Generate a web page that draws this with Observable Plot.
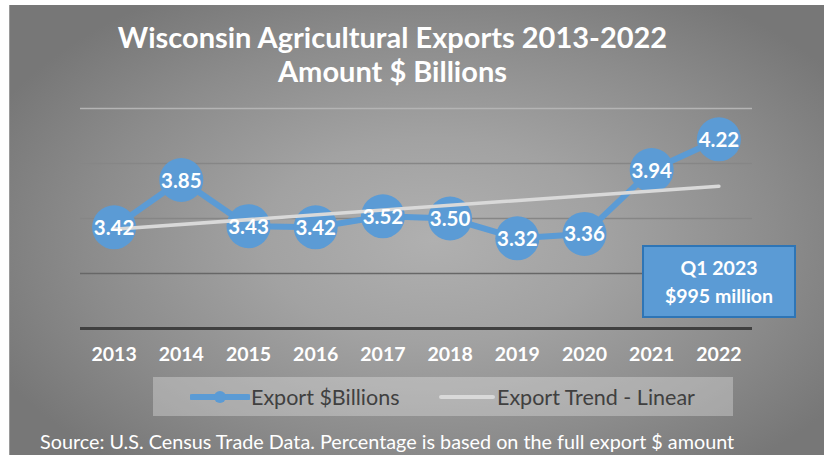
<!DOCTYPE html>
<html>
<head>
<meta charset="utf-8">
<script src="https://cdn.jsdelivr.net/npm/d3@7"></script>
<script src="https://cdn.jsdelivr.net/npm/@observablehq/plot@0.6"></script>
<style>
  html, body { margin: 0; padding: 0; background: #fff; }
  #wrap { position: relative; width: 827px; height: 455px; overflow: hidden; font-family: Lato, "Open Sans", sans-serif; }
  #panel { position: absolute; left: 9px; top: 5px; width: 814px; height: 470px;
    background: radial-gradient(ellipse 60% 62% at 52% 50%, #b0b0b0 0%, #a2a2a2 35%, #8c8c8c 70%, #777 100%);
    border-left: 1px solid #9a9a9a; }
  #title { position: absolute; left: 0; width: 785px; top: 20px; text-align: center; color: #fff; font-weight: 700; font-size: 29px; line-height: 34px; }
  #chart { position: absolute; left: 0; top: 0; }
  #q1 { position: absolute; left: 642px; top: 245px; box-sizing: border-box; width: 154px; height: 73px;
    background: #5b9bd5; border: 2px solid #2e75b6; color: #fff; font-weight: 700; font-size: 19.5px; line-height: 28px; text-align: center; padding-top: 7px; }
  #legend { position: absolute; left: 153px; top: 377px; width: 580px; height: 39px; background: rgba(235,235,235,0.35); }
  #legend .item { position: absolute; top: 0; height: 39px; display: flex; align-items: center; color: #404040; font-size: 21.5px; }
  #source { position: absolute; left: 40px; top: 429px; color: #fff; font-size: 19.8px; white-space: nowrap; }
</style>
</head>
<body>
<div id="wrap">
  <div id="panel"></div>
  <div id="title">Wisconsin Agricultural Exports 2013-2022<br>Amount $ Billions</div>
  <div id="chart"></div>
  <div id="q1"></div>
  <div id="legend"></div>
  <div id="source"></div>
</div>
<script>
const years = [2013, 2014, 2015, 2016, 2017, 2018, 2019, 2020, 2021, 2022];
const exportsBn = [3.42, 3.85, 3.43, 3.42, 3.52, 3.50, 3.32, 3.36, 3.94, 4.22];
const yTicks = [2.5, 3.0, 3.5, 4.0, 4.5];
const seriesNames = ["Export $Billions", "Export Trend - Linear"];
const noteLines = ["Q1 2023", "$995 million"];
const sourceText = "Source: U.S. Census Trade Data. Percentage is based on the full export $ amount";

const data = years.map((year, i) => ({year, value: exportsBn[i]}));
const blue = "#5b9bd5";

const gridColor = d => d === 2.5 ? "#404040" : d === 3.0 ? "#676767" : d === 4.5 ? "#b4b4b4" : "#868686";
const gridWidth = d => d === 2.5 ? 3 : 1.5;

const chart = Plot.plot({
  width: 827,
  height: 372,
  marginLeft: 80,
  marginRight: 75,
  marginTop: 108,
  marginBottom: 44,
  style: {background: "transparent", fontFamily: "Lato, 'Open Sans', sans-serif"},
  x: {type: "linear", domain: [years[0] - 0.5, years[years.length - 1] + 0.5]},
  y: {domain: [yTicks[0], yTicks[yTicks.length - 1]]},
  marks: [
    Plot.ruleY(yTicks, {stroke: gridColor, strokeWidth: gridWidth}),
    Plot.axisX({ticks: years, tickFormat: d => String(d), tickSize: 0, tickPadding: 19, fontSize: 19.5, fontWeight: 700, fill: "#fff", label: null}),
    Plot.axisY({ticks: [], label: null, tickSize: 0}),
    Plot.line(data, {x: "year", y: "value", stroke: blue, strokeWidth: 6}),
    Plot.dot(data, {x: "year", y: "value", r: 22, fill: blue}),
    Plot.linearRegressionY(data, {x: "year", y: "value", ci: 0, stroke: "#d9d9d9", strokeWidth: 3.5, strokeOpacity: 1}),
    Plot.text(data, {x: "year", y: "value", text: d => d.value.toFixed(2), fill: "#fff", fontSize: 20.5, fontWeight: 700, dy: 1})
  ]
});
document.getElementById("chart").appendChild(chart);

document.getElementById("q1").innerHTML = noteLines.join("<br>");
document.getElementById("source").textContent = sourceText;

const legend = document.getElementById("legend");
legend.innerHTML = `
  <div class="item" style="left:37px">
    <svg width="60" height="16"><line x1="2" y1="8" x2="58" y2="8" stroke="${blue}" stroke-width="6" stroke-linecap="round"/><circle cx="30" cy="8" r="6" fill="${blue}"/></svg>
    <span style="margin-left:1px">${seriesNames[0]}</span>
  </div>
  <div class="item" style="left:286px">
    <svg width="56" height="16"><line x1="2" y1="8" x2="54" y2="8" stroke="#d9d9d9" stroke-width="4" stroke-linecap="round"/></svg>
    <span style="margin-left:2px">${seriesNames[1]}</span>
  </div>`;
</script>
</body>
</html>
